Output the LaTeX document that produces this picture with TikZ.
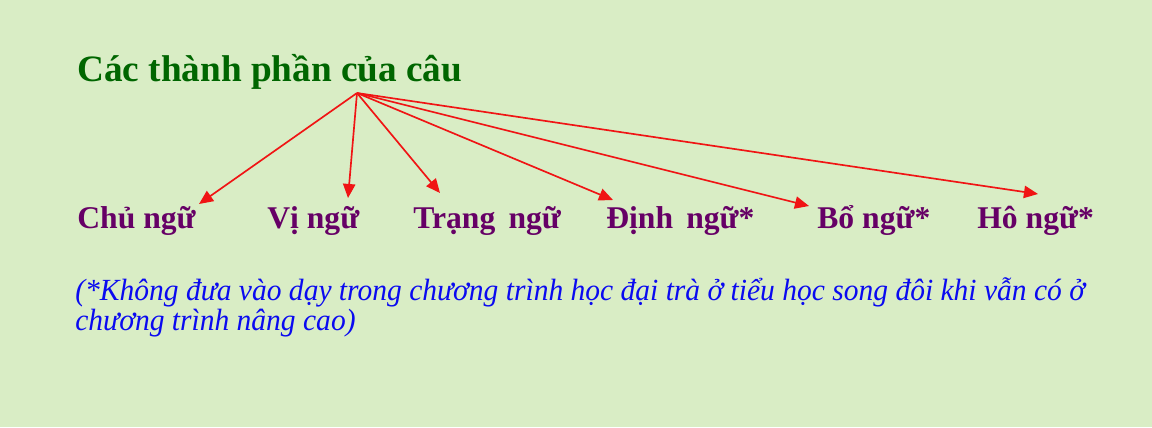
\documentclass[tikz,border=0pt]{standalone}
\usepackage{fontspec}
\setmainfont{Liberation Serif}
\newfontfamily\noteFont[FakeStretch=0.96]{Liberation Serif}
\usepackage{tikz}
\usetikzlibrary{positioning,arrows.meta}
\definecolor{bgColor}{RGB}{217,237,197}
\definecolor{titleColor}{RGB}{0,102,0}
\definecolor{partColor}{RGB}{102,0,102}
\definecolor{noteColor}{RGB}{10,10,240}
\definecolor{arrowColor}{RGB}{240,20,20}
\tikzstyle{canvas} = [x = 0.02cm, y = -0.02cm]
\tikzstyle{titleText} = [color=titleColor, font=\fontsize{21.2}{24}\selectfont\bfseries, anchor=base west, inner sep=0pt]
\tikzstyle{partText} = [color=partColor, font=\fontsize{18}{20}\selectfont\bfseries, anchor=base west, inner sep=0pt]
\tikzstyle{noteText} = [color=noteColor, font=\noteFont\fontsize{17.5}{20}\selectfont\itshape, anchor=base west, inner sep=0pt]
\tikzstyle{partArrow} = [color=arrowColor, line width=0.95pt, -{Triangle[length=8pt, width=7pt]}]
\begin{document}
\begin{tikzpicture}[canvas]
  \fill [bgColor] (0,0) rectangle (1152,427);
  \useasboundingbox (0,0) rectangle (1152,427);

  \node [titleText] (title) at (77,81) {Các thành phần của câu};

  \node [partText] (chu) at (77,228) {Chủ ngữ};
  \node [partText] (vi) at (267,228) {Vị ngữ};
  \node [partText] (trang) at (413,228) {Trạng\, ngữ};
  \node [partText] (dinh) at (606,228) {Định\, ngữ*};
  \node [partText] (bo) at (817,228) {Bổ ngữ*};
  \node [partText] (ho) at (977,228) {Hô ngữ*};

  \node [noteText] (noteA) at (75,300) {(*Không đưa vào dạy trong chương trình học đại trà ở tiểu học song đôi khi vẫn có ở};
  \node [noteText] (noteB) at (75,330) {chương trình nâng cao)};

  % arrows from the title
  \coordinate (hub) at (357,93);
  \coordinate (toChu) at (199,204);
  \coordinate (toVi) at (348,198);
  \coordinate (toTrang) at (440,193);
  \coordinate (toDinh) at (613,200);
  \coordinate (toBo) at (809,206);
  \coordinate (toHo) at (1038,194);
  \foreach \target in {toChu,toVi,toTrang,toDinh,toBo,toHo} {
    \draw [partArrow] (hub) -- (\target);
  }
\end{tikzpicture}
\end{document}
